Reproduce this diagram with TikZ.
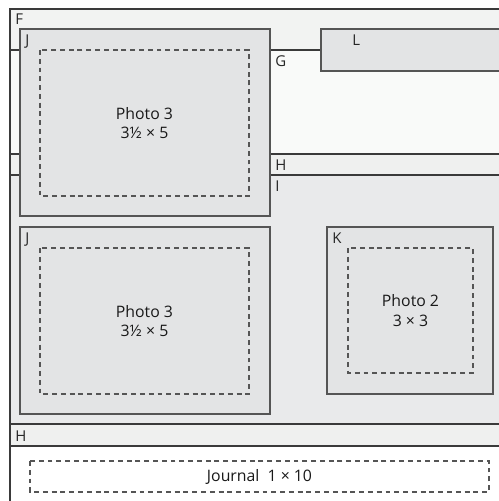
\documentclass[tikz,border=0pt]{standalone}
\usepackage{fontspec}
\setmainfont{Open Sans}
\usepackage{xcolor}
\definecolor{cline}{HTML}{3A3A3A}
\definecolor{cedge}{HTML}{555555}
\definecolor{cstrip}{HTML}{F2F3F2}
\definecolor{cblank}{HTML}{F9FAF9}
\definecolor{cband}{HTML}{EFF0EF}
\definecolor{cpanel}{HTML}{E9EAEB}
\definecolor{cmount}{HTML}{E3E4E5}
\usepackage{tikz}
\usetikzlibrary{positioning}
\tikzset{
x=0.02cm, y=-0.02cm,
Rule/.style={
	draw=cline,
	line width=0.6pt
},
Mount/.style={
	draw=cedge,
	fill=cmount,
	line width=0.6pt
},
Photo/.style={
	draw=cedge,
	dash pattern=on 2.8pt off 2.2pt,
	line width=0.6pt
},
Tag/.style={
	anchor=north west,
	inner sep=0pt,
	font=\fontsize{8.5}{9}\selectfont,
	text=black!85
},
Caption/.style={
	align=center,
	inner sep=0pt,
	font=\fontsize{9}{11}\selectfont,
	text=black!90
}
}

\begin{document}
\begin{tikzpicture}
	\useasboundingbox (0,0) rectangle (499,501);
	% page regions
	\fill[cstrip] (10,9) rectangle (499,50);
	\fill[cblank] (10,50) rectangle (499,154);
	\fill[cband] (10,154) rectangle (499,175);
	\fill[cpanel] (10,175) rectangle (499,424);
	\fill[cband] (10,424) rectangle (499,446);
	\fill[white] (10,446) rectangle (499,501);

	\draw[Rule] (499,9) -- (10,9) -- (10,501);
	\foreach \y in {50,154,175,424,446}
		\draw[Rule] (10,\y) -- (499,\y);

	% mounts
	\draw[Mount] (20,29) rectangle (270,216);
	\draw[Mount] (20,227) rectangle (270,414);
	\draw[Mount] (327,227) rectangle (493,394);
	\fill[cmount] (321,29) rectangle (499,71);
	\draw[Mount, fill=none] (499,29) -- (321,29) -- (321,71) -- (499,71);

	% photo openings
	\draw[Photo] (40,50) rectangle (249,196);
	\draw[Photo] (40,248) rectangle (249,394);
	\draw[Photo] (348,248) rectangle (473,373);
	\draw[Photo] (30,461) rectangle (489,492);

	\node[Caption] (photoA) at (144.5,123) {Photo 3\\3½ × 5};
	\node[Caption] (photoB) at (144.5,321) {Photo 3\\3½ × 5};
	\node[Caption] (photoC) at (410.5,310.5) {Photo 2\\3 × 3};
	\node[Caption] (journal) at (259.5,476.5) {Journal\ \ 1 × 10};

	% letters
	\node[Tag] (tagF) at (15,13) {F};
	\node[Tag] (tagJa) at (25,34) {J};
	\node[Tag] (tagJb) at (25,232) {J};
	\node[Tag] (tagG) at (275,55) {G};
	\node[Tag] (tagL) at (352,34) {L};
	\node[Tag] (tagHa) at (275,159) {H};
	\node[Tag] (tagI) at (275,180) {I};
	\node[Tag] (tagK) at (332,232) {K};
	\node[Tag] (tagHb) at (15,430) {H};
\end{tikzpicture}
\end{document}
